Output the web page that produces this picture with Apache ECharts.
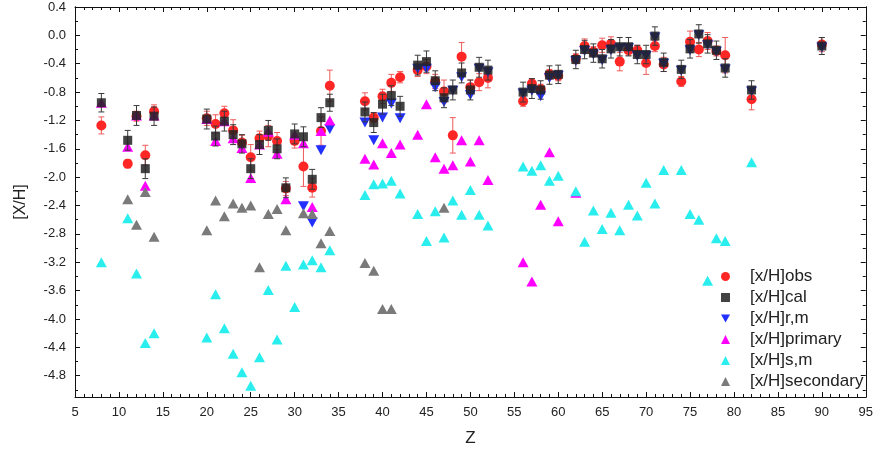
<!DOCTYPE html>
<html>
<head>
<meta charset="utf-8">
<script src="https://cdn.jsdelivr.net/npm/echarts@6/dist/echarts.min.js"></script>
<style>
  html, body { margin: 0; padding: 0; background: #fff; }
  #chart { width: 876px; height: 455px; }
</style>
</head>
<body>
<div id="chart"></div>
<script>
// Atomic numbers with observed / calculated abundances
const Z_MAIN = [8, 11, 12, 13, 14, 20, 21, 22, 23, 24, 25, 26, 27, 28, 29, 30, 31, 32, 33, 34,
  38, 39, 40, 41, 42, 44, 45, 46, 47, 48, 49, 50, 51, 52, 56, 57, 58, 59, 60, 62,
  63, 64, 65, 66, 67, 68, 69, 70, 71, 72, 74, 75, 76, 77, 78, 79, 82, 90];

// [x/H]obs and its uncertainty
const OBS = [-1.27, -1.81, -1.14, -1.69, -1.07, -1.17, -1.25, -1.10, -1.34, -1.51, -1.72, -1.45, -1.42, -1.49, -2.16, -1.49, -1.85, -2.15, -1.35, -0.71,
  -0.93, -1.16, -0.86, -0.67, -0.59, -0.49, -0.44, -0.65, -0.79, -1.41, -0.30, -0.73, -0.66, -0.60, -0.93, -0.68, -0.76, -0.55, -0.57, -0.33,
  -0.15, -0.23, -0.14, -0.12, -0.37, -0.21, -0.21, -0.39, -0.15, -0.41, -0.65, -0.09, -0.20, -0.08, -0.22, -0.28, -0.90, -0.13];
const OBS_ERR = [0.12, 0.06, 0.07, 0.14, 0.09, 0.10, 0.13, 0.10, 0.15, 0.10, 0.18, 0.10, 0.15, 0.12, 0.10, 0.10, 0.28, 0.13, 0.20, 0.22,
  0.12, 0.07, 0.10, 0.12, 0.08, 0.09, 0.10, 0.10, 0.16, 0.25, 0.20, 0.10, 0.12, 0.14, 0.07, 0.07, 0.07, 0.07, 0.07, 0.07,
  0.10, 0.07, 0.10, 0.10, 0.13, 0.07, 0.07, 0.16, 0.08, 0.10, 0.07, 0.15, 0.10, 0.12, 0.07, 0.25, 0.15, 0.10];

// [x/H]cal and its uncertainty
const CAL = [-0.95, -1.48, -1.13, -1.88, -1.14, -1.18, -1.42, -1.21, -1.40, -1.53, -1.88, -1.54, -1.34, -1.60, -2.15, -1.39, -1.43, -2.03, -1.16, -0.95,
  -1.08, -1.23, -0.97, -0.85, -1.00, -0.42, -0.37, -0.64, -0.88, -0.77, -0.53, -0.77, -0.45, -0.49, -0.80, -0.75, -0.77, -0.56, -0.55, -0.34,
  -0.20, -0.25, -0.33, -0.19, -0.16, -0.16, -0.27, -0.27, -0.01, -0.38, -0.48, -0.19, 0.02, -0.12, -0.21, -0.46, -0.77, -0.15];
const CAL_ERR = [0.13, 0.14, 0.14, 0.14, 0.13, 0.14, 0.14, 0.14, 0.14, 0.13, 0.14, 0.14, 0.14, 0.14, 0.14, 0.14, 0.14, 0.14, 0.14, 0.12,
  0.14, 0.14, 0.14, 0.14, 0.14, 0.14, 0.15, 0.14, 0.14, 0.14, 0.14, 0.14, 0.14, 0.14, 0.14, 0.14, 0.13, 0.13, 0.13, 0.13,
  0.13, 0.13, 0.13, 0.13, 0.13, 0.13, 0.13, 0.13, 0.13, 0.13, 0.13, 0.13, 0.13, 0.13, 0.13, 0.13, 0.13, 0.12];

// [x/H]r,m
const Z_RM = [31, 32, 33, 34, 38, 39, 40, 41, 42, 44, 45, 46, 47, 48, 49, 50, 51, 52, 56, 57, 58, 59, 60, 62,
  63, 64, 65, 66, 67, 68, 69, 70, 71, 72, 74, 75, 76, 77, 78, 79, 82, 90];
const RM = [-2.41, -2.64, -1.62, -1.32, -1.23, -1.48, -1.16, -0.96, -1.17, -0.47, -0.47, -0.73, -0.94, -0.78, -0.59, -0.84, -0.47, -0.52, -0.82, -0.78, -0.86, -0.60, -0.57, -0.36,
  -0.22, -0.27, -0.35, -0.21, -0.18, -0.18, -0.29, -0.29, -0.03, -0.40, -0.50, -0.21, 0.00, -0.14, -0.23, -0.48, -0.79, -0.17];

// [x/H]primary
const Z_PRI = [8, 11, 12, 13, 14, 20, 21, 22, 23, 24, 25, 26, 27, 28, 29, 30, 31, 32, 33, 34,
  38, 39, 40, 41, 42, 44, 45, 46, 47, 48, 49, 50, 51, 52, 56, 57, 58, 59, 60, 62];
const PRI = [-0.95, -1.57, -1.13, -2.12, -1.13, -1.18, -1.49, -1.21, -1.45, -1.59, -2.01, -1.54, -1.36, -1.67, -2.31, -1.40, -1.52, -2.42, -1.35, -1.20,
  -1.74, -1.82, -1.52, -1.66, -1.54, -1.40, -0.97, -1.72, -1.88, -1.83, -1.48, -1.78, -1.48, -2.04, -3.20, -3.47, -2.39, -1.65, -2.62, -2.22];

// [x/H]s,m
const Z_SM = [8, 11, 12, 13, 14, 20, 21, 22, 23, 24, 25, 26, 27, 28, 29, 30, 31, 32, 33, 34,
  38, 39, 40, 41, 42, 44, 45, 46, 47, 48, 49, 50, 51, 52, 56, 57, 58, 59, 60, 62,
  63, 64, 65, 66, 67, 68, 69, 70, 71, 72, 74, 75, 76, 77, 78, 79, 82];
const SM = [-3.20, -2.58, -3.36, -4.34, -4.20, -4.26, -3.65, -4.13, -4.49, -4.75, -4.94, -4.54, -3.59, -4.29, -3.25, -3.83, -3.23, -3.17, -3.27, -3.03,
  -2.25, -2.10, -2.09, -2.05, -2.23, -2.52, -2.90, -2.48, -2.85, -2.33, -2.53, -2.18, -2.53, -2.68, -1.85, -1.91, -1.83, -2.05, -1.98, -2.20,
  -2.91, -2.47, -2.73, -2.50, -2.75, -2.39, -2.54, -2.08, -2.37, -1.90, -1.90, -2.52, -2.60, -3.46, -2.86, -2.90, -1.79];

// [x/H]secondary
const Z_SEC = [11, 12, 13, 14, 20, 21, 22, 23, 24, 25, 26, 27, 28, 29, 31, 32, 33, 34, 38, 39, 40, 41, 47];
const SEC = [-2.31, -2.67, -2.21, -2.84, -2.75, -2.33, -2.55, -2.37, -2.43, -2.40, -3.27, -2.52, -2.45, -2.75, -2.51, -2.52, -2.93, -2.76, -3.21, -3.32, -3.86, -3.86, -2.43];

// Axis ticks
const Y_LABELS = [0.4, 0.0, -0.4, -0.8, -1.2, -1.6, -2.0, -2.4, -2.8, -3.2, -3.6, -4.0, -4.4, -4.8];
const Y_MINOR = [0.2, -0.2, -0.6, -1.0, -1.4, -1.8, -2.2, -2.6, -3.0, -3.4, -3.8, -4.2, -4.6, -5.0];

const NAMES = ['[x/H]obs', '[x/H]cal', '[x/H]r,m', '[x/H]primary', '[x/H]s,m', '[x/H]secondary'];
const DOWN_TRI = 'path://M0,0 L10,0 L5,8.66 Z';
const FONT = 'Liberation Sans, Arial, sans-serif';

function pairs(xs, ys) { return xs.map((x, i) => [x, ys[i]]); }
function triples(xs, ys, es) { return xs.map((x, i) => [x, ys[i], es[i]]); }

function errorBars(color) {
  return function (params, api) {
    const x = api.value(0), y = api.value(1), e = api.value(2);
    const top = api.coord([x, y + e]);
    const bot = api.coord([x, y - e]);
    const hw = 3;
    const st = { stroke: color, lineWidth: 1 };
    return {
      type: 'group',
      children: [
        { type: 'line', shape: { x1: top[0], y1: top[1], x2: bot[0], y2: bot[1] }, style: st },
        { type: 'line', shape: { x1: top[0] - hw, y1: top[1], x2: top[0] + hw, y2: top[1] }, style: st },
        { type: 'line', shape: { x1: bot[0] - hw, y1: bot[1], x2: bot[0] + hw, y2: bot[1] }, style: st }
      ]
    };
  };
}

const axisLine = { show: true, onZero: false, lineStyle: { color: '#111', width: 1 } };

function yAxisDef(position, values, len, labels) {
  return {
    type: 'value', position: position, min: -5.1, max: 0.4,
    axisLine: axisLine,
    splitLine: { show: false },
    axisTick: { show: true, inside: true, length: len, customValues: values, lineStyle: { color: '#111' } },
    axisLabel: labels ? {
      show: true, customValues: values, fontSize: 13, color: '#222', fontFamily: FONT, margin: 9,
      formatter: v => v.toFixed(1)
    } : { show: false },
    name: labels ? '[X/H]' : '',
    nameLocation: 'middle', nameGap: 46, nameRotate: 90,
    nameTextStyle: { fontSize: 16, color: '#222', fontFamily: FONT }
  };
}

function xAxisDef(position, labels) {
  return {
    type: 'value', position: position, min: 5, max: 95, interval: 5,
    axisLine: axisLine,
    splitLine: { show: false },
    axisTick: { show: true, inside: true, length: 5, lineStyle: { color: '#111' } },
    minorTick: { show: true, splitNumber: 5, length: 3, lineStyle: { color: '#111' } },
    minorSplitLine: { show: false },
    axisLabel: labels ? { show: true, fontSize: 13, color: '#222', fontFamily: FONT, margin: 9 } : { show: false },
    name: labels ? 'Z' : '',
    nameLocation: 'middle', nameGap: 33,
    nameTextStyle: { fontSize: 17, color: '#222', fontFamily: FONT }
  };
}

const chart = echarts.init(document.getElementById('chart'), null, { renderer: 'canvas' });

chart.setOption({
  animation: false,
  backgroundColor: '#ffffff',
  grid: { left: 75, right: 8, top: 7, bottom: 58 },
  xAxis: [xAxisDef('bottom', true), xAxisDef('top', false)],
  yAxis: [
    yAxisDef('left', Y_LABELS, 5, true),
    yAxisDef('left', Y_MINOR, 3, false),
    yAxisDef('right', Y_LABELS, 5, false),
    yAxisDef('right', Y_MINOR, 3, false)
  ],
  legend: {
    orient: 'vertical', left: 721, top: 268, padding: 0,
    itemWidth: 9, itemHeight: 9, itemGap: 4,
    textStyle: { fontSize: 17, lineHeight: 17, color: '#222', fontFamily: FONT, padding: [0, 0, 0, 15] },
    data: [
      { name: NAMES[0], icon: 'circle' },
      { name: NAMES[1], icon: 'rect' },
      { name: NAMES[2], icon: DOWN_TRI },
      { name: NAMES[3], icon: 'triangle' },
      { name: NAMES[4], icon: 'triangle' },
      { name: NAMES[5], icon: 'triangle' }
    ]
  },
  series: [
    {
      type: 'custom', name: 'obs-err', z: 2, silent: true,
      renderItem: errorBars('#f05a5a'),
      data: triples(Z_MAIN, OBS, OBS_ERR)
    },
    {
      type: 'scatter', name: NAMES[0], z: 3, symbol: 'circle', symbolSize: 10,
      itemStyle: { color: '#ff2626', opacity: 1 },
      data: pairs(Z_MAIN, OBS)
    },
    {
      type: 'scatter', name: NAMES[2], z: 4, symbol: DOWN_TRI, symbolSize: [11, 10],
      itemStyle: { color: '#2130ff', opacity: 1 },
      data: pairs(Z_RM, RM)
    },
    {
      type: 'scatter', name: NAMES[3], z: 5, symbol: 'triangle', symbolSize: [11, 10],
      itemStyle: { color: '#ff00ff', opacity: 1 },
      data: pairs(Z_PRI, PRI)
    },
    {
      type: 'custom', name: 'cal-err', z: 6, silent: true,
      renderItem: errorBars('#3a3a3a'),
      data: triples(Z_MAIN, CAL, CAL_ERR)
    },
    {
      type: 'scatter', name: NAMES[1], z: 7, symbol: 'rect', symbolSize: 9,
      itemStyle: { color: '#222222', opacity: 0.85 },
      data: pairs(Z_MAIN, CAL)
    },
    {
      type: 'scatter', name: NAMES[4], z: 8, symbol: 'triangle', symbolSize: [11, 10],
      itemStyle: { color: '#2aeeee', opacity: 1 },
      data: pairs(Z_SM, SM)
    },
    {
      type: 'scatter', name: NAMES[5], z: 9, symbol: 'triangle', symbolSize: [11, 10],
      itemStyle: { color: '#7a7a7a', opacity: 1 },
      data: pairs(Z_SEC, SEC)
    }
  ]
});
</script>
</body>
</html>
